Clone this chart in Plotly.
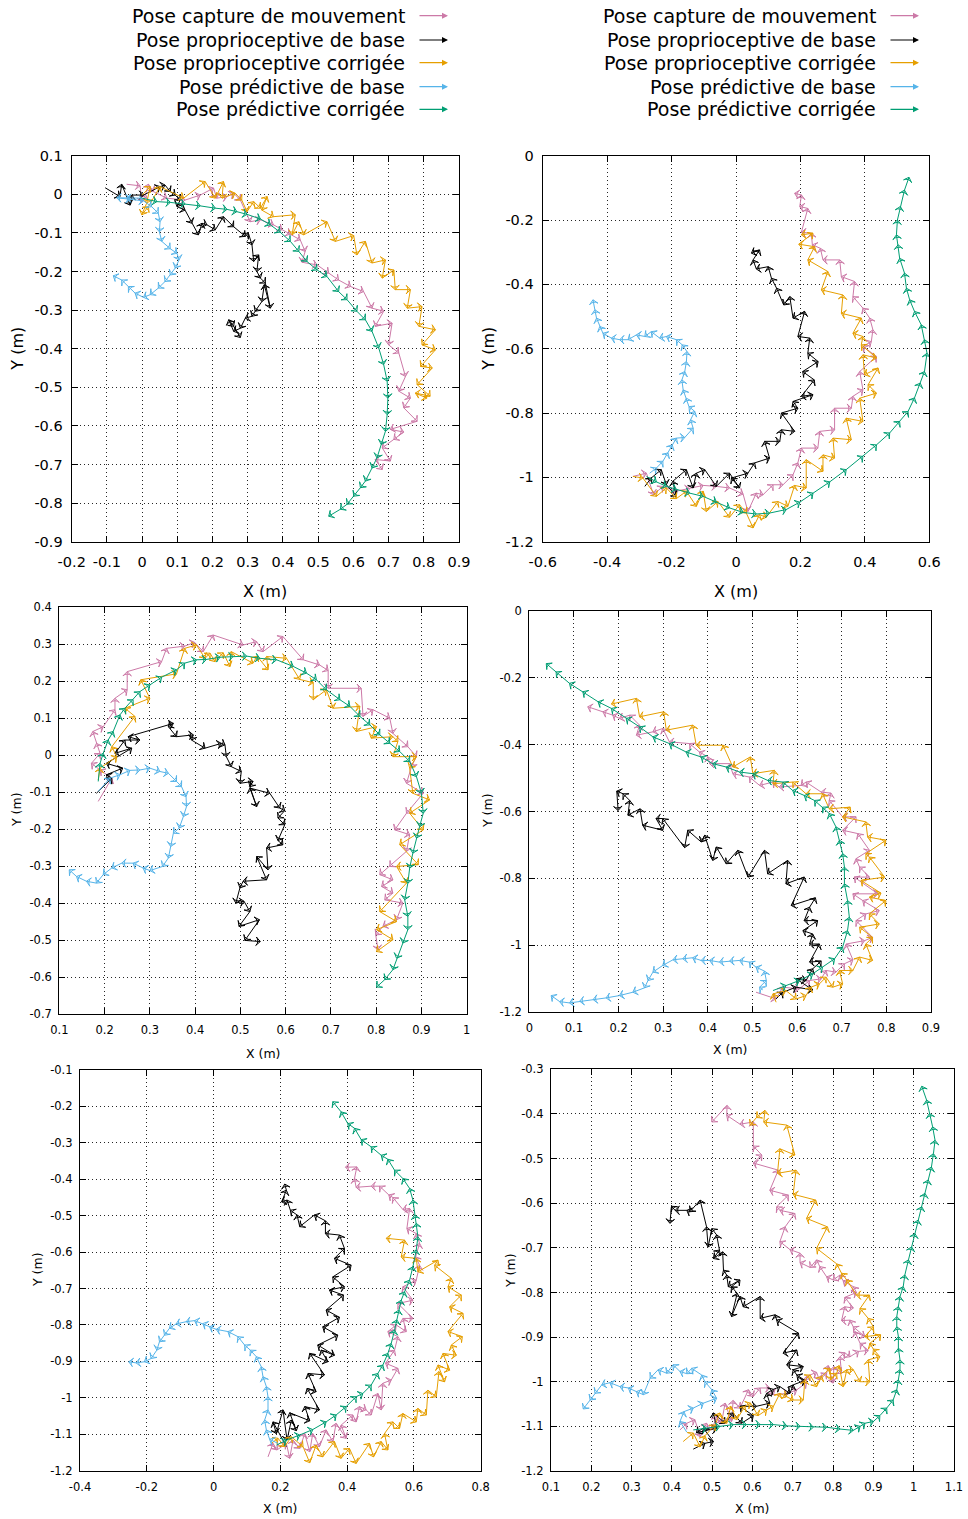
import plotly.graph_objects as go

W, H = 968, 1519

SERIES_NAMES = ["Pose capture de mouvement", "Pose proprioceptive de base",
                "Pose proprioceptive corrigée", "Pose prédictive de base",
                "Pose prédictive corrigée"]
COLORS = ["#CC79A7", "#000000", "#E69F00", "#56B4E9", "#009E73"]

# ---------------- Panel 1 ----------------
P1_X_LABELS = ["-0.2", "-0.1", "0", "0.1", "0.2", "0.3", "0.4", "0.5", "0.6", "0.7", "0.8", "0.9"]
P1_Y_LABELS = ["-0.9", "-0.8", "-0.7", "-0.6", "-0.5", "-0.4", "-0.3", "-0.2", "-0.1", "0", "0.1"]
P1_MOCAP = [[-0.044, 0.026], [-0.006, 0.022], [0.0, -0.02], [0.01, 0.0], [0.018, 0.026], [0.032, 0.007],
            [0.070, -0.010], [0.122, -0.015], [0.165, -0.002], [0.203, 0.016], [0.212, -0.010],
            [0.241, -0.006], [0.260, 0.003], [0.279, -0.015], [0.307, -0.071], [0.336, -0.066],
            [0.373, -0.079], [0.397, -0.092], [0.421, -0.103], [0.449, -0.118], [0.463, -0.148],
            [0.454, -0.176], [0.497, -0.183], [0.530, -0.204], [0.558, -0.222], [0.592, -0.239],
            [0.629, -0.252], [0.653, -0.295], [0.686, -0.303], [0.662, -0.342], [0.710, -0.334],
            [0.700, -0.390], [0.729, -0.411], [0.748, -0.472], [0.729, -0.510], [0.762, -0.528],
            [0.743, -0.553], [0.781, -0.588], [0.705, -0.609], [0.743, -0.616], [0.715, -0.635],
            [0.682, -0.657], [0.705, -0.691], [0.662, -0.687], [0.682, -0.713]]
P1_PROPRIO = [[-0.105, 0.017], [-0.063, -0.006], [-0.058, 0.026], [-0.034, -0.028], [-0.029, -0.002],
              [0.004, -0.002], [0.051, 0.020], [0.065, 0.024], [0.080, 0.007], [0.094, -0.002],
              [0.108, -0.015], [0.099, -0.032], [0.122, -0.041], [0.141, -0.075], [0.160, -0.105],
              [0.170, -0.075], [0.184, -0.079], [0.208, -0.092], [0.231, -0.058], [0.260, -0.084],
              [0.293, -0.109], [0.302, -0.101], [0.312, -0.131], [0.317, -0.174], [0.331, -0.157],
              [0.326, -0.200], [0.336, -0.217], [0.350, -0.230], [0.364, -0.295], [0.347, -0.234],
              [0.340, -0.278], [0.321, -0.303], [0.312, -0.316], [0.293, -0.321], [0.279, -0.347],
              [0.260, -0.355], [0.246, -0.325], [0.260, -0.342], [0.279, -0.371]]
P1_PROPRIO_CORR = [[0.000, -0.002], [0.023, 0.020], [0.013, -0.023], [-0.001, -0.053], [0.018, -0.032],
                   [0.051, 0.020], [0.118, -0.010], [0.179, 0.033], [0.208, -0.010], [0.231, 0.033],
                   [0.227, -0.010], [0.264, 0.003], [0.283, -0.015], [0.298, -0.045], [0.317, -0.019],
                   [0.336, -0.036], [0.355, -0.006], [0.340, -0.041], [0.373, -0.058], [0.435, -0.053],
                   [0.426, -0.105], [0.445, -0.071], [0.459, -0.105], [0.525, -0.071], [0.549, -0.122],
                   [0.601, -0.107], [0.610, -0.157], [0.634, -0.122], [0.653, -0.178], [0.691, -0.170],
                   [0.682, -0.217], [0.715, -0.196], [0.719, -0.247], [0.762, -0.247], [0.753, -0.295],
                   [0.795, -0.291], [0.786, -0.342], [0.833, -0.351], [0.795, -0.390], [0.833, -0.403],
                   [0.791, -0.446], [0.824, -0.450], [0.781, -0.493], [0.818, -0.523], [0.776, -0.515],
                   [0.809, -0.528]]
P1_PRED = [[0.000, -0.010], [-0.044, -0.010], [-0.072, -0.009], [-0.034, -0.013], [0.004, -0.017],
           [0.027, -0.032], [0.046, -0.049], [0.051, -0.071], [0.049, -0.097], [0.056, -0.122],
           [0.080, -0.141], [0.099, -0.153], [0.105, -0.170], [0.094, -0.191], [0.080, -0.209],
           [0.065, -0.226], [0.046, -0.243], [0.023, -0.260], [0.004, -0.267], [-0.020, -0.256],
           [-0.039, -0.239], [-0.058, -0.222], [-0.082, -0.211]]
P1_PRED_CORR = [[0.000, -0.010], [0.042, -0.019], [0.080, -0.021], [0.122, -0.025], [0.165, -0.030],
                [0.208, -0.036], [0.241, -0.039], [0.269, -0.045], [0.298, -0.052], [0.336, -0.064],
                [0.364, -0.079], [0.392, -0.098], [0.421, -0.122], [0.445, -0.148], [0.468, -0.174],
                [0.497, -0.196], [0.525, -0.213], [0.558, -0.252], [0.582, -0.273], [0.610, -0.303],
                [0.634, -0.325], [0.653, -0.355], [0.672, -0.398], [0.686, -0.441], [0.696, -0.484],
                [0.698, -0.528], [0.696, -0.571], [0.691, -0.614], [0.679, -0.648], [0.667, -0.683],
                [0.653, -0.709], [0.634, -0.743], [0.620, -0.760], [0.601, -0.782], [0.582, -0.803],
                [0.563, -0.816], [0.530, -0.834]]

# ---------------- Panel 2 ----------------
P2_X_LABELS = ["-0.6", "-0.4", "-0.2", "0", "0.2", "0.4", "0.6"]
P2_Y_LABELS = ["-1.2", "-1", "-0.8", "-0.6", "-0.4", "-0.2", "0"]
P2_MOCAP = [[-0.320, -0.997], [-0.278, -0.987], [-0.256, -1.054], [-0.227, -1.028], [-0.185, -1.043],
            [-0.144, -1.035], [-0.102, -1.025], [-0.061, -1.028], [-0.020, -1.033], [0.022, -1.052],
            [0.037, -1.106], [0.063, -1.049], [0.084, -1.054], [0.115, -1.023], [0.146, -1.023],
            [0.177, -0.992], [0.192, -0.955], [0.203, -0.909], [0.254, -0.909], [0.260, -0.857],
            [0.306, -0.852], [0.306, -0.785], [0.358, -0.785], [0.363, -0.748], [0.394, -0.728],
            [0.384, -0.671], [0.436, -0.624], [0.394, -0.593], [0.420, -0.578], [0.425, -0.541],
            [0.415, -0.505], [0.394, -0.474], [0.363, -0.438], [0.368, -0.391], [0.327, -0.376],
            [0.322, -0.324], [0.270, -0.324], [0.262, -0.288], [0.237, -0.277], [0.234, -0.241],
            [0.203, -0.238], [0.223, -0.164], [0.198, -0.158], [0.203, -0.122], [0.182, -0.117]]
P2_PROPRIO = [[-0.283, -1.028], [-0.263, -1.002], [-0.232, -0.976], [-0.216, -1.023], [-0.185, -1.059],
              [-0.196, -1.012], [-0.154, -0.976], [-0.133, -1.033], [-0.123, -0.987], [-0.097, -0.976],
              [-0.061, -1.028], [-0.020, -0.987], [0.011, -1.033], [-0.014, -1.002], [0.037, -0.987],
              [0.058, -0.955], [0.104, -0.940], [0.089, -0.888], [0.136, -0.888], [0.141, -0.852],
              [0.182, -0.857], [0.141, -0.800], [0.192, -0.785], [0.177, -0.764], [0.239, -0.743],
              [0.203, -0.748], [0.243, -0.697], [0.207, -0.671], [0.255, -0.640], [0.223, -0.614],
              [0.229, -0.567], [0.192, -0.562], [0.213, -0.484], [0.177, -0.505], [0.167, -0.438],
              [0.148, -0.464], [0.126, -0.412], [0.110, -0.381], [0.100, -0.345], [0.063, -0.352],
              [0.053, -0.324], [0.073, -0.293], [0.048, -0.303]]
P2_PROPRIO_CORR = [[-0.320, -0.997], [-0.289, -1.002], [-0.247, -1.059], [-0.216, -1.033], [-0.185, -1.066],
                   [-0.154, -1.043], [-0.123, -1.090], [-0.102, -1.043], [-0.092, -1.106], [-0.056, -1.075],
                   [-0.020, -1.124], [0.011, -1.085], [0.032, -1.111], [0.053, -1.157], [0.073, -1.116],
                   [0.094, -1.124], [0.130, -1.075], [0.161, -1.090], [0.182, -1.025], [0.218, -1.033],
                   [0.218, -0.945], [0.270, -0.981], [0.270, -0.930], [0.306, -0.940], [0.301, -0.878],
                   [0.358, -0.883], [0.342, -0.816], [0.394, -0.826], [0.384, -0.754], [0.436, -0.738],
                   [0.410, -0.712], [0.441, -0.660], [0.399, -0.681], [0.394, -0.619], [0.436, -0.629],
                   [0.389, -0.588], [0.394, -0.562], [0.363, -0.552], [0.389, -0.505], [0.327, -0.490],
                   [0.332, -0.433], [0.265, -0.417], [0.285, -0.360], [0.223, -0.324], [0.244, -0.283],
                   [0.195, -0.275], [0.239, -0.241], [0.203, -0.246]]
P2_PRED = [[-0.268, -0.987], [-0.247, -0.971], [-0.227, -0.950], [-0.211, -0.924], [-0.198, -0.899],
           [-0.185, -0.878], [-0.159, -0.876], [-0.133, -0.847], [-0.141, -0.821], [-0.128, -0.795],
           [-0.146, -0.780], [-0.154, -0.754], [-0.164, -0.728], [-0.168, -0.697], [-0.159, -0.671],
           [-0.154, -0.640], [-0.152, -0.609], [-0.167, -0.588], [-0.185, -0.572], [-0.216, -0.562],
           [-0.237, -0.567], [-0.263, -0.547], [-0.283, -0.562], [-0.309, -0.557], [-0.335, -0.572],
           [-0.361, -0.572], [-0.387, -0.567], [-0.413, -0.552], [-0.423, -0.531], [-0.433, -0.505],
           [-0.438, -0.479], [-0.444, -0.448]]
P2_PRED_CORR = [[-0.278, -0.997], [-0.247, -1.014], [-0.216, -1.028], [-0.185, -1.038], [-0.144, -1.049],
                [-0.102, -1.059], [-0.061, -1.077], [-0.020, -1.095], [0.022, -1.109], [0.063, -1.114],
                [0.104, -1.111], [0.156, -1.100], [0.198, -1.077], [0.239, -1.049], [0.291, -1.014],
                [0.342, -0.976], [0.394, -0.935], [0.436, -0.899], [0.477, -0.862], [0.508, -0.826],
                [0.534, -0.795], [0.554, -0.753], [0.572, -0.707], [0.585, -0.671], [0.593, -0.614],
                [0.585, -0.572], [0.575, -0.526], [0.554, -0.484], [0.539, -0.448], [0.529, -0.412],
                [0.523, -0.365], [0.508, -0.319], [0.503, -0.277], [0.498, -0.246], [0.501, -0.200],
                [0.510, -0.158], [0.523, -0.107], [0.537, -0.067]]

# ---------------- Panel 3 ----------------
P3_X_LABELS = ["0.1", "0.2", "0.3", "0.4", "0.5", "0.6", "0.7", "0.8", "0.9", "1"]
P3_Y_LABELS = ["-0.7", "-0.6", "-0.5", "-0.4", "-0.3", "-0.2", "-0.1", "0", "0.1", "0.2", "0.3", "0.4"]
P3_MOCAP = [[0.186, -0.125], [0.216, -0.062], [0.190, -0.040], [0.171, -0.022], [0.190, 0.005],
            [0.182, 0.032], [0.174, 0.064], [0.197, 0.077], [0.223, 0.123], [0.223, 0.154],
            [0.250, 0.177], [0.250, 0.226], [0.326, 0.253], [0.337, 0.289], [0.377, 0.295],
            [0.399, 0.305], [0.418, 0.280], [0.440, 0.325], [0.506, 0.298], [0.536, 0.307],
            [0.550, 0.280], [0.594, 0.321], [0.639, 0.258], [0.675, 0.244], [0.694, 0.229],
            [0.694, 0.181], [0.767, 0.181], [0.771, 0.105], [0.793, 0.123], [0.830, 0.100],
            [0.837, 0.059], [0.870, 0.023], [0.889, -0.004], [0.878, -0.031], [0.867, -0.076],
            [0.904, -0.103], [0.867, -0.157], [0.841, -0.202], [0.874, -0.215], [0.867, -0.260],
            [0.830, -0.301], [0.808, -0.323], [0.837, -0.337], [0.812, -0.355], [0.837, -0.373],
            [0.819, -0.391], [0.859, -0.400], [0.845, -0.445], [0.815, -0.463], [0.799, -0.486],
            [0.804, -0.526]]
P3_PROPRIO = [[0.182, -0.103], [0.216, -0.062], [0.204, -0.053], [0.240, -0.035], [0.204, -0.022],
              [0.260, 0.019], [0.223, 0.005], [0.245, 0.041], [0.278, 0.041], [0.252, 0.050],
              [0.352, 0.086], [0.341, 0.077], [0.359, 0.050], [0.396, 0.055], [0.392, 0.041],
              [0.422, 0.019], [0.458, 0.032], [0.466, 0.028], [0.469, -0.004], [0.480, -0.031],
              [0.502, -0.044], [0.499, -0.076], [0.528, -0.071], [0.521, -0.085], [0.536, -0.139],
              [0.521, -0.089], [0.565, -0.103], [0.587, -0.143], [0.598, -0.150], [0.583, -0.170],
              [0.598, -0.188], [0.583, -0.231], [0.594, -0.242], [0.558, -0.251], [0.561, -0.310],
              [0.536, -0.274], [0.558, -0.337], [0.506, -0.341], [0.499, -0.359], [0.490, -0.400],
              [0.508, -0.395], [0.521, -0.423], [0.497, -0.463], [0.542, -0.445], [0.510, -0.501],
              [0.544, -0.504]]
P3_PROPRIO_CORR = [[0.186, -0.067], [0.190, -0.035], [0.227, -0.004], [0.216, 0.023], [0.267, 0.105],
                   [0.245, 0.127], [0.300, 0.154], [0.280, 0.204], [0.359, 0.220], [0.377, 0.289],
                   [0.403, 0.298], [0.422, 0.262], [0.433, 0.276], [0.444, 0.253], [0.462, 0.277],
                   [0.477, 0.240], [0.480, 0.280], [0.528, 0.249], [0.537, 0.268], [0.561, 0.231],
                   [0.558, 0.267], [0.602, 0.262], [0.631, 0.205], [0.661, 0.196], [0.661, 0.150],
                   [0.690, 0.177], [0.705, 0.127], [0.764, 0.132], [0.756, 0.064], [0.801, 0.077],
                   [0.789, 0.046], [0.837, 0.050], [0.848, 0.037], [0.837, -0.004], [0.889, -0.004],
                   [0.874, -0.035], [0.881, -0.103], [0.918, -0.121], [0.874, -0.157], [0.904, -0.202],
                   [0.852, -0.242], [0.893, -0.296], [0.845, -0.301], [0.867, -0.346], [0.808, -0.423],
                   [0.845, -0.450], [0.801, -0.472], [0.837, -0.499], [0.801, -0.531]]
P3_PRED = [[0.186, -0.098], [0.212, -0.062], [0.234, -0.053], [0.256, -0.041], [0.278, -0.040],
           [0.300, -0.035], [0.322, -0.044], [0.341, -0.049], [0.359, -0.071], [0.370, -0.085],
           [0.380, -0.112], [0.381, -0.139], [0.374, -0.166], [0.365, -0.197], [0.352, -0.211],
           [0.346, -0.247], [0.341, -0.278], [0.328, -0.301], [0.300, -0.312], [0.285, -0.305],
           [0.263, -0.292], [0.238, -0.292], [0.216, -0.305], [0.197, -0.323], [0.182, -0.346],
           [0.160, -0.341], [0.138, -0.328], [0.122, -0.310]]
P3_PRED_CORR = [[0.186, -0.071], [0.190, -0.022], [0.197, 0.005], [0.208, 0.041], [0.219, 0.064],
                [0.234, 0.109], [0.245, 0.127], [0.263, 0.150], [0.278, 0.172], [0.300, 0.190],
                [0.326, 0.211], [0.359, 0.231], [0.377, 0.249], [0.403, 0.258], [0.425, 0.259],
                [0.455, 0.265], [0.484, 0.267], [0.514, 0.268], [0.543, 0.262], [0.580, 0.258],
                [0.617, 0.240], [0.646, 0.222], [0.668, 0.204], [0.690, 0.177], [0.720, 0.150],
                [0.742, 0.132], [0.764, 0.105], [0.786, 0.082], [0.808, 0.055], [0.830, 0.032],
                [0.852, 0.010], [0.874, -0.017], [0.889, -0.058], [0.900, -0.103], [0.904, -0.157],
                [0.896, -0.193], [0.889, -0.224], [0.881, -0.265], [0.874, -0.305], [0.870, -0.346],
                [0.863, -0.391], [0.870, -0.436], [0.870, -0.472], [0.859, -0.508], [0.845, -0.549],
                [0.837, -0.580], [0.819, -0.607], [0.801, -0.627]]

# ---------------- Panel 4 ----------------
P4_X_LABELS = ["0", "0.1", "0.2", "0.3", "0.4", "0.5", "0.6", "0.7", "0.8", "0.9"]
P4_Y_LABELS = ["-1.2", "-1", "-0.8", "-0.6", "-0.4", "-0.2", "0"]
P4_MOCAP = [[0.508, -1.140], [0.553, -1.160], [0.568, -1.125], [0.605, -1.130], [0.628, -1.105],
            [0.654, -1.100], [0.665, -1.075], [0.687, -1.080], [0.706, -1.055], [0.725, -1.043],
            [0.710, -0.996], [0.751, -0.986], [0.769, -0.976], [0.732, -0.926], [0.754, -0.906],
            [0.784, -0.896], [0.747, -0.866], [0.725, -0.846], [0.781, -0.846], [0.728, -0.796],
            [0.762, -0.796], [0.740, -0.766], [0.732, -0.741], [0.762, -0.716], [0.736, -0.666],
            [0.702, -0.656], [0.732, -0.616], [0.702, -0.616], [0.672, -0.567], [0.676, -0.545],
            [0.654, -0.542], [0.620, -0.512], [0.609, -0.522], [0.560, -0.527], [0.546, -0.512],
            [0.516, -0.522], [0.493, -0.497], [0.456, -0.487], [0.449, -0.457], [0.404, -0.457],
            [0.400, -0.437], [0.381, -0.422], [0.359, -0.397], [0.314, -0.392], [0.299, -0.352],
            [0.277, -0.362], [0.240, -0.372], [0.247, -0.342], [0.225, -0.312], [0.202, -0.322],
            [0.187, -0.312], [0.165, -0.302], [0.131, -0.287]]
P4_PROPRIO = [[0.553, -1.160], [0.568, -1.140], [0.598, -1.125], [0.635, -1.133], [0.598, -1.100],
              [0.620, -1.105], [0.635, -1.070], [0.654, -1.047], [0.628, -1.050], [0.650, -0.996],
              [0.628, -0.996], [0.635, -0.966], [0.613, -0.956], [0.646, -0.926], [0.616, -0.926],
              [0.628, -0.886], [0.641, -0.858], [0.587, -0.881], [0.616, -0.796], [0.575, -0.816],
              [0.579, -0.746], [0.534, -0.786], [0.527, -0.716], [0.490, -0.796], [0.467, -0.716],
              [0.441, -0.756], [0.419, -0.706], [0.411, -0.746], [0.393, -0.671], [0.385, -0.691],
              [0.355, -0.656], [0.348, -0.708], [0.299, -0.621], [0.284, -0.621], [0.299, -0.656],
              [0.254, -0.641], [0.248, -0.592], [0.221, -0.611], [0.225, -0.567], [0.210, -0.547],
              [0.196, -0.539], [0.199, -0.597]]
P4_PROPRIO_CORR = [[0.553, -1.170], [0.546, -1.145], [0.575, -1.135], [0.598, -1.160], [0.620, -1.150],
                   [0.631, -1.125], [0.650, -1.115], [0.665, -1.095], [0.680, -1.125], [0.702, -1.115],
                   [0.695, -1.075], [0.725, -1.075], [0.740, -1.035], [0.769, -1.045], [0.754, -0.996],
                   [0.769, -0.976], [0.740, -0.946], [0.784, -0.936], [0.762, -0.906], [0.799, -0.866],
                   [0.762, -0.856], [0.788, -0.844], [0.743, -0.806], [0.796, -0.796], [0.762, -0.736],
                   [0.754, -0.726], [0.799, -0.686], [0.758, -0.676], [0.754, -0.631], [0.702, -0.616],
                   [0.719, -0.587], [0.672, -0.592], [0.657, -0.547], [0.620, -0.547], [0.590, -0.512],
                   [0.546, -0.517], [0.549, -0.477], [0.501, -0.487], [0.495, -0.437], [0.456, -0.467],
                   [0.434, -0.402], [0.374, -0.402], [0.366, -0.342], [0.307, -0.357], [0.301, -0.302],
                   [0.247, -0.317], [0.240, -0.262], [0.184, -0.279]]
P4_PRED = [[0.523, -1.133], [0.516, -1.125], [0.531, -1.105], [0.527, -1.077], [0.508, -1.065],
           [0.493, -1.050], [0.471, -1.045], [0.449, -1.047], [0.426, -1.050], [0.404, -1.045],
           [0.385, -1.045], [0.366, -1.037], [0.344, -1.040], [0.322, -1.043], [0.299, -1.060],
           [0.277, -1.080], [0.266, -1.105], [0.258, -1.127], [0.232, -1.140], [0.202, -1.150],
           [0.172, -1.157], [0.143, -1.162], [0.113, -1.167], [0.090, -1.172], [0.068, -1.168],
           [0.049, -1.150]]
P4_PRED_CORR = [[0.546, -1.135], [0.575, -1.120], [0.605, -1.105], [0.635, -1.085], [0.657, -1.065],
                [0.684, -1.040], [0.702, -1.005], [0.713, -0.956], [0.717, -0.916], [0.713, -0.866],
                [0.706, -0.816], [0.706, -0.766], [0.702, -0.726], [0.695, -0.686], [0.687, -0.646],
                [0.672, -0.606], [0.657, -0.587], [0.639, -0.567], [0.616, -0.552], [0.590, -0.537],
                [0.568, -0.512], [0.534, -0.507], [0.501, -0.487], [0.471, -0.482], [0.441, -0.467],
                [0.411, -0.457], [0.385, -0.437], [0.351, -0.422], [0.314, -0.397], [0.277, -0.377],
                [0.247, -0.347], [0.217, -0.322], [0.184, -0.292], [0.154, -0.272], [0.120, -0.242],
                [0.090, -0.217], [0.060, -0.183], [0.038, -0.158]]

# ---------------- Panel 5 ----------------
P5_X_LABELS = ["-0.4", "-0.2", "0", "0.2", "0.4", "0.6", "0.8"]
P5_Y_LABELS = ["-1.2", "-1.1", "-1", "-0.9", "-0.8", "-0.7", "-0.6", "-0.5", "-0.4", "-0.3", "-0.2", "-0.1"]
P5_MOCAP = [[0.163, -1.162], [0.178, -1.125], [0.190, -1.143], [0.218, -1.125], [0.228, -1.166],
            [0.238, -1.116], [0.258, -1.139], [0.273, -1.098], [0.288, -1.148], [0.297, -1.098],
            [0.317, -1.134], [0.337, -1.088], [0.357, -1.120], [0.367, -1.070], [0.397, -1.111],
            [0.382, -1.075], [0.417, -1.047], [0.427, -1.066], [0.437, -1.024], [0.457, -1.033],
            [0.472, -1.047], [0.492, -0.988], [0.502, -1.033], [0.507, -0.960], [0.532, -0.951],
            [0.552, -0.919], [0.515, -0.905], [0.542, -0.869], [0.552, -0.832], [0.522, -0.818],
            [0.547, -0.800], [0.577, -0.818], [0.567, -0.782], [0.597, -0.782], [0.552, -0.741],
            [0.597, -0.732], [0.567, -0.695], [0.607, -0.677], [0.617, -0.636], [0.605, -0.613],
            [0.617, -0.576], [0.607, -0.549], [0.579, -0.535], [0.587, -0.480], [0.567, -0.483],
            [0.537, -0.450], [0.525, -0.443], [0.497, -0.419], [0.472, -0.419], [0.427, -0.422],
            [0.422, -0.398], [0.429, -0.366], [0.395, -0.367]]
P5_PROPRIO = [[0.218, -1.134], [0.178, -1.066], [0.188, -1.098], [0.208, -1.033], [0.220, -1.116],
              [0.233, -1.061], [0.248, -1.090], [0.228, -1.041], [0.288, -1.063], [0.273, -1.024],
              [0.317, -1.033], [0.280, -0.974], [0.307, -0.983], [0.283, -0.933], [0.332, -0.937],
              [0.288, -0.878], [0.342, -0.901], [0.322, -0.869], [0.362, -0.883], [0.312, -0.855],
              [0.372, -0.828], [0.327, -0.805], [0.377, -0.779], [0.337, -0.759], [0.389, -0.718],
              [0.347, -0.704], [0.392, -0.695], [0.357, -0.668], [0.412, -0.636], [0.362, -0.617],
              [0.392, -0.590], [0.377, -0.553], [0.335, -0.549], [0.335, -0.514], [0.302, -0.498],
              [0.258, -0.530], [0.250, -0.498], [0.230, -0.485], [0.220, -0.457], [0.204, -0.462],
              [0.218, -0.430], [0.213, -0.413]]
P5_PROPRIO_CORR = [[0.173, -1.125], [0.193, -1.111], [0.213, -1.134], [0.233, -1.107], [0.268, -1.134],
                   [0.288, -1.178], [0.307, -1.130], [0.327, -1.162], [0.362, -1.120], [0.382, -1.166],
                   [0.407, -1.139], [0.427, -1.180], [0.467, -1.125], [0.479, -1.162], [0.502, -1.120],
                   [0.522, -1.143], [0.512, -1.098], [0.537, -1.066], [0.557, -1.084], [0.567, -1.043],
                   [0.607, -1.066], [0.612, -1.029], [0.637, -1.047], [0.642, -0.979], [0.667, -0.997],
                   [0.675, -0.928], [0.692, -0.956], [0.672, -0.910], [0.707, -0.924], [0.687, -0.878],
                   [0.727, -0.883], [0.712, -0.855], [0.745, -0.832], [0.702, -0.818], [0.747, -0.768],
                   [0.707, -0.750], [0.742, -0.718], [0.702, -0.695], [0.712, -0.672], [0.662, -0.636],
                   [0.672, -0.622], [0.612, -0.654], [0.607, -0.617], [0.562, -0.613], [0.572, -0.567],
                   [0.517, -0.562]]
P5_PRED = [[0.193, -1.125], [0.168, -1.114], [0.158, -1.088], [0.153, -1.061], [0.163, -1.033],
           [0.163, -0.997], [0.158, -0.969], [0.148, -0.942], [0.143, -0.915], [0.128, -0.887],
           [0.110, -0.869], [0.093, -0.855], [0.073, -0.832], [0.043, -0.818], [0.008, -0.812],
           [-0.012, -0.805], [-0.032, -0.796], [-0.057, -0.788], [-0.082, -0.791], [-0.112, -0.797],
           [-0.132, -0.809], [-0.147, -0.828], [-0.162, -0.846], [-0.170, -0.869], [-0.187, -0.892],
           [-0.207, -0.901], [-0.232, -0.904], [-0.254, -0.901]]
P5_PRED_CORR = [[0.188, -1.130], [0.218, -1.116], [0.258, -1.102], [0.297, -1.087], [0.337, -1.066],
                [0.367, -1.047], [0.397, -1.024], [0.427, -0.997], [0.447, -0.988], [0.472, -0.965],
                [0.492, -0.933], [0.507, -0.910], [0.522, -0.878], [0.532, -0.851], [0.542, -0.814],
                [0.549, -0.786], [0.555, -0.759], [0.562, -0.732], [0.572, -0.709], [0.587, -0.677],
                [0.597, -0.640], [0.607, -0.594], [0.612, -0.558], [0.607, -0.521], [0.602, -0.498],
                [0.597, -0.457], [0.587, -0.425], [0.567, -0.398], [0.542, -0.375], [0.522, -0.345],
                [0.502, -0.334], [0.472, -0.311], [0.442, -0.291], [0.422, -0.260], [0.402, -0.247],
                [0.382, -0.215], [0.357, -0.187]]

# ---------------- Panel 6 ----------------
P6_X_LABELS = ["0.1", "0.2", "0.3", "0.4", "0.5", "0.6", "0.7", "0.8", "0.9", "1", "1.1"]
P6_Y_LABELS = ["-1.2", "-1.1", "-1", "-0.9", "-0.8", "-0.7", "-0.6", "-0.5", "-0.4", "-0.3"]
P6_MOCAP = [[0.420, -1.108], [0.437, -1.093], [0.457, -1.085], [0.470, -1.123], [0.486, -1.093],
            [0.499, -1.108], [0.511, -1.078], [0.523, -1.093], [0.532, -1.048], [0.548, -1.089],
            [0.552, -1.042], [0.569, -1.059], [0.590, -1.018], [0.602, -1.033], [0.619, -1.014],
            [0.643, -1.014], [0.652, -1.029], [0.689, -1.026], [0.710, -1.018], [0.734, -1.002],
            [0.734, -0.988], [0.759, -0.979], [0.766, -0.996], [0.784, -0.981], [0.788, -0.964],
            [0.800, -1.003], [0.802, -0.966], [0.821, -0.981], [0.817, -0.944], [0.829, -0.935],
            [0.842, -0.944], [0.863, -0.932], [0.887, -0.930], [0.867, -0.914], [0.854, -0.888],
            [0.879, -0.899], [0.850, -0.877], [0.842, -0.862], [0.821, -0.863], [0.829, -0.832],
            [0.850, -0.835], [0.829, -0.811], [0.858, -0.800], [0.850, -0.787], [0.825, -0.774],
            [0.817, -0.761], [0.800, -0.772], [0.784, -0.765], [0.767, -0.742], [0.759, -0.727],
            [0.743, -0.744], [0.718, -0.733], [0.718, -0.712], [0.693, -0.704], [0.668, -0.686],
            [0.681, -0.653], [0.705, -0.623], [0.668, -0.616], [0.660, -0.608], [0.689, -0.582],
            [0.643, -0.571], [0.664, -0.526], [0.602, -0.510], [0.623, -0.492], [0.602, -0.472],
            [0.602, -0.418], [0.569, -0.423], [0.536, -0.403], [0.537, -0.381], [0.499, -0.418]]
P6_PROPRIO = [[0.453, -1.151], [0.482, -1.138], [0.503, -1.134], [0.478, -1.104], [0.461, -1.114],
              [0.511, -1.104], [0.503, -1.070], [0.532, -1.093], [0.552, -1.070], [0.573, -1.093],
              [0.602, -1.076], [0.569, -1.055], [0.610, -1.055], [0.643, -1.048], [0.635, -1.026],
              [0.652, -1.017], [0.668, -1.011], [0.693, -1.026], [0.701, -1.007], [0.730, -0.997],
              [0.710, -0.985], [0.701, -0.973], [0.726, -0.966], [0.685, -0.962], [0.710, -0.929],
              [0.676, -0.936], [0.714, -0.891], [0.660, -0.862], [0.656, -0.850], [0.619, -0.858],
              [0.619, -0.809], [0.577, -0.832], [0.569, -0.809], [0.548, -0.854], [0.562, -0.802],
              [0.548, -0.787], [0.569, -0.772], [0.540, -0.787], [0.536, -0.761], [0.528, -0.750],
              [0.526, -0.709], [0.503, -0.724], [0.518, -0.705], [0.511, -0.671], [0.499, -0.657],
              [0.490, -0.698], [0.486, -0.653], [0.470, -0.593], [0.445, -0.619], [0.437, -0.616],
              [0.408, -0.616], [0.399, -0.607], [0.395, -0.645]]
P6_PROPRIO_CORR = [[0.428, -1.134], [0.453, -1.115], [0.470, -1.146], [0.482, -1.121], [0.507, -1.097],
                   [0.519, -1.070], [0.536, -1.093], [0.546, -1.055], [0.561, -1.085], [0.581, -1.055],
                   [0.595, -1.048], [0.614, -1.076], [0.635, -1.063], [0.652, -1.055], [0.668, -1.026],
                   [0.685, -1.033], [0.701, -1.041], [0.726, -1.041], [0.730, -0.996], [0.743, -0.985],
                   [0.759, -1.011], [0.772, -0.988], [0.792, -0.970], [0.794, -0.996], [0.809, -0.981],
                   [0.815, -0.964], [0.825, -1.011], [0.834, -0.973], [0.850, -0.973], [0.867, -1.000],
                   [0.891, -1.000], [0.887, -0.951], [0.916, -0.944], [0.900, -0.927], [0.891, -0.914],
                   [0.918, -0.895], [0.879, -0.899], [0.900, -0.877], [0.887, -0.858], [0.867, -0.836],
                   [0.890, -0.806], [0.858, -0.806], [0.834, -0.772], [0.821, -0.757], [0.809, -0.736],
                   [0.759, -0.701], [0.786, -0.653], [0.734, -0.634], [0.757, -0.593], [0.701, -0.580],
                   [0.708, -0.526], [0.662, -0.533], [0.668, -0.478], [0.705, -0.492], [0.685, -0.425],
                   [0.628, -0.418], [0.631, -0.392], [0.610, -0.408], [0.594, -0.425]]
P6_PRED = [[0.437, -1.113], [0.420, -1.089], [0.430, -1.067], [0.453, -1.059], [0.478, -1.048],
           [0.511, -1.037], [0.499, -1.018], [0.482, -1.000], [0.474, -0.985], [0.449, -0.970],
           [0.437, -0.982], [0.420, -0.977], [0.403, -0.962], [0.387, -0.981], [0.366, -0.973],
           [0.346, -0.992], [0.329, -1.029], [0.312, -1.022], [0.292, -1.014], [0.271, -1.011],
           [0.246, -1.002], [0.226, -1.007], [0.209, -1.026], [0.197, -1.041], [0.180, -1.061]]
P6_PRED_CORR = [[0.453, -1.108], [0.486, -1.104], [0.519, -1.100], [0.552, -1.096], [0.585, -1.096],
                [0.619, -1.096], [0.652, -1.096], [0.685, -1.099], [0.718, -1.100], [0.751, -1.102],
                [0.784, -1.102], [0.817, -1.106], [0.850, -1.109], [0.867, -1.100], [0.879, -1.093],
                [0.900, -1.089], [0.916, -1.076], [0.933, -1.059], [0.949, -1.041], [0.958, -1.018],
                [0.962, -0.996], [0.966, -0.973], [0.966, -0.951], [0.962, -0.925], [0.962, -0.899],
                [0.958, -0.877], [0.958, -0.854], [0.962, -0.832], [0.966, -0.809], [0.974, -0.787],
                [0.978, -0.761], [0.987, -0.727], [0.995, -0.698], [1.003, -0.668], [1.011, -0.638],
                [1.020, -0.608], [1.028, -0.578], [1.036, -0.548], [1.044, -0.519], [1.049, -0.489],
                [1.053, -0.459], [1.047, -0.429], [1.039, -0.399], [1.032, -0.369], [1.020, -0.338]]

# ---------------- layout (pixel boxes of each plotting area) ----------------
PANELS = [
    dict(box=(71.7, 155.7, 459.0, 541.7), xl=P1_X_LABELS, yl=P1_Y_LABELS, tick=14.5, title=16,
         xt=(265, 591.5), yt=(18, 348.7), xso=7, yso=5,
         data=[P1_MOCAP, P1_PROPRIO, P1_PROPRIO_CORR, P1_PRED, P1_PRED_CORR]),
    dict(box=(542.7, 155.7, 929.3, 541.7), xl=P2_X_LABELS, yl=P2_Y_LABELS, tick=14.5, title=16,
         xt=(736, 591.5), yt=(489, 348.7), xso=7, yso=5,
         data=[P2_MOCAP, P2_PROPRIO, P2_PROPRIO_CORR, P2_PRED, P2_PRED_CORR]),
    dict(box=(59.3, 607.3, 466.7, 1014.0), xl=P3_X_LABELS, yl=P3_Y_LABELS, tick=11.5, title=12.5,
         xt=(263, 1053), yt=(16, 810), xso=5, yso=4,
         data=[P3_MOCAP, P3_PROPRIO, P3_PROPRIO_CORR, P3_PRED, P3_PRED_CORR]),
    dict(box=(529.3, 610.7, 931.0, 1012.3), xl=P4_X_LABELS, yl=P4_Y_LABELS, tick=11.5, title=12.5,
         xt=(730, 1049), yt=(487, 811), xso=5, yso=4,
         data=[P4_MOCAP, P4_PROPRIO, P4_PROPRIO_CORR, P4_PRED, P4_PRED_CORR]),
    dict(box=(80.0, 1070.0, 480.7, 1470.7), xl=P5_X_LABELS, yl=P5_Y_LABELS, tick=11.5, title=12.5,
         xt=(280, 1508), yt=(37, 1270), xso=5, yso=4,
         data=[P5_MOCAP, P5_PROPRIO, P5_PROPRIO_CORR, P5_PRED, P5_PRED_CORR]),
    dict(box=(551.0, 1069.3, 954.0, 1471.0), xl=P6_X_LABELS, yl=P6_Y_LABELS, tick=11.5, title=12.5,
         xt=(752, 1508), yt=(510, 1270), xso=5, yso=4,
         data=[P6_MOCAP, P6_PROPRIO, P6_PROPRIO_CORR, P6_PRED, P6_PRED_CORR]),
]

FONT = "DejaVu Sans"
fig = go.Figure()
annotations = []
layout_axes = {}

for i, p in enumerate(PANELS, start=1):
    sfx = "" if i == 1 else str(i)
    for name, color, pts in zip(SERIES_NAMES, COLORS, p["data"]):
        fig.add_trace(go.Scatter(
            x=[q[0] for q in pts], y=[q[1] for q in pts], name=name,
            mode="lines+markers", xaxis="x" + sfx, yaxis="y" + sfx,
            line=dict(color=color, width=1),
            marker=dict(symbol="arrow-wide-open", size=6, angleref="previous", color=color,
                        line=dict(color=color, width=1)),
            showlegend=False, hoverinfo="skip"))
    x0, y0, x1, y1 = p["box"]
    xv = [float(t) for t in p["xl"]]
    yv = [float(t) for t in p["yl"]]
    common = dict(showline=True, linecolor="black", linewidth=1.2, mirror="ticks",
                  ticks="inside", ticklen=6, tickwidth=1, tickcolor="black", automargin=False,
                  showgrid=True, gridcolor="rgba(0,0,0,0.85)", gridwidth=1, griddash="1px,3px",
                  zeroline=False, tickfont=dict(family=FONT, size=p["tick"], color="black"))
    layout_axes["xaxis" + sfx] = dict(common, domain=[x0 / W, x1 / W], anchor="y" + sfx,
                                      range=[xv[0], xv[-1]], tickvals=xv, ticktext=p["xl"],
                                      ticklabelstandoff=p["xso"])
    layout_axes["yaxis" + sfx] = dict(common, domain=[1 - y1 / H, 1 - y0 / H], anchor="x" + sfx,
                                      range=[yv[0], yv[-1]], tickvals=yv, ticktext=p["yl"],
                                      ticklabelstandoff=p["yso"])
    annotations.append(dict(text="X (m)", x=p["xt"][0] / W, y=1 - p["xt"][1] / H, xref="paper",
                            yref="paper", showarrow=False, xanchor="center", yanchor="middle",
                            font=dict(family=FONT, size=p["title"], color="black")))
    annotations.append(dict(text="Y (m)", x=p["yt"][0] / W, y=1 - p["yt"][1] / H, xref="paper",
                            yref="paper", showarrow=False, xanchor="center", yanchor="middle",
                            textangle=-90, font=dict(family=FONT, size=p["title"], color="black")))

# Legends (top of the two columns): text right-aligned, arrow sample to the right
LEGEND_ROWS_Y = [15.7, 40.0, 62.7, 86.7, 109.3]
for text_right, arrow_end in [(407, 448), (878, 919)]:
    for name, color, yy in zip(SERIES_NAMES, COLORS, LEGEND_ROWS_Y):
        annotations.append(dict(text=name, x=text_right / W, y=1 - yy / H, xref="paper", yref="paper",
                                showarrow=False, xanchor="right", yanchor="middle",
                                font=dict(family=FONT, size=19, color="black")))
        annotations.append(dict(text="", x=arrow_end / W, y=1 - yy / H, xref="paper", yref="paper",
                                showarrow=True, ax=-30, ay=0, arrowhead=2, arrowsize=1,
                                arrowwidth=1.2, arrowcolor=color, standoff=0, startstandoff=0))

fig.update_layout(template="none", width=W, height=H, margin=dict(l=0, r=0, t=0, b=0, pad=0),
                  paper_bgcolor="white", plot_bgcolor="white",
                  font=dict(family=FONT, color="black"),
                  annotations=annotations, showlegend=False, **layout_axes)

fig.write_html("out.html", config={"displayModeBar": False},
               post_script="document.body.style.margin='0';")
